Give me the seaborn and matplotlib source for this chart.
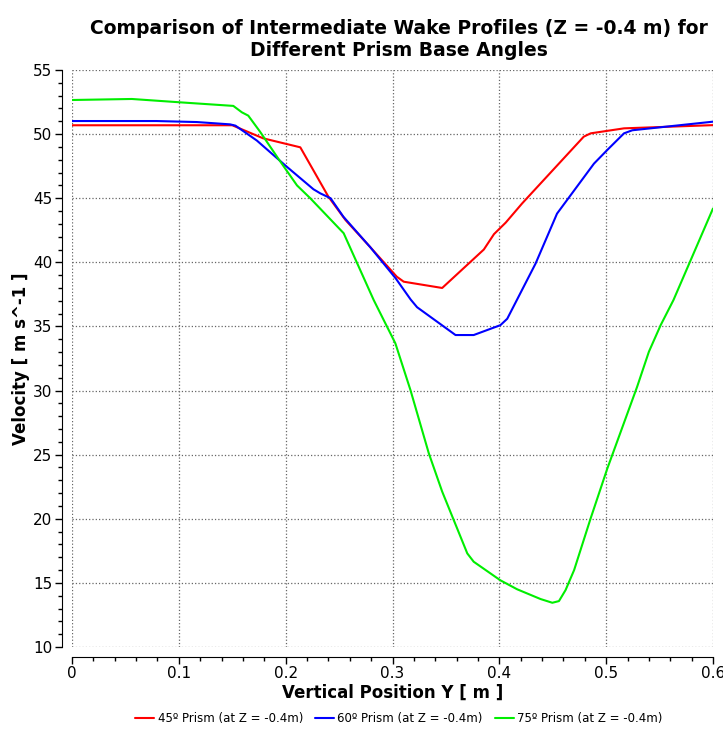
import numpy as np
import pandas as pd
import matplotlib
matplotlib.use("Agg")
import matplotlib.pyplot as plt
from matplotlib.ticker import MultipleLocator
import seaborn as sns

# Wake profile readings (Y position in m, velocity in m/s)
y_45 = [0, 0.05, 0.10, 0.15, 0.179, 0.2137, 0.24, 0.256, 0.279, 0.304, 0.3105,
        0.3465, 0.3855, 0.395, 0.406, 0.4214, 0.479, 0.4855, 0.5167, 0.55, 0.6]
v_45 = [50.69, 50.69, 50.69, 50.69, 49.67, 48.97, 45.12, 43.3, 41.2, 38.88, 38.49,
        38.0, 41.0, 42.2, 43.1, 44.6, 49.8, 50.06, 50.45, 50.55, 50.7]

y_60 = [0, 0.079, 0.117, 0.148, 0.153, 0.173, 0.201, 0.226, 0.2324, 0.242, 0.254,
        0.279, 0.303, 0.317, 0.323, 0.359, 0.376, 0.401, 0.4074, 0.4339, 0.454,
        0.4886, 0.501, 0.5167, 0.5245, 0.6]
v_60 = [51.02, 51.02, 50.94, 50.76, 50.66, 49.5, 47.46, 45.7, 45.38, 45.0, 43.56,
        41.2, 38.75, 37.1, 36.5, 34.33, 34.33, 35.1, 35.6, 39.9, 43.8,
        47.7, 48.76, 50.06, 50.3, 50.97]

y_75 = [0, 0.056, 0.101, 0.151, 0.159, 0.165, 0.176, 0.193, 0.2106, 0.223, 0.2543,
        0.2824, 0.3027, 0.3168, 0.334, 0.3465, 0.370, 0.376, 0.401, 0.4167, 0.4386,
        0.4496, 0.4558, 0.462, 0.47, 0.4855, 0.501, 0.529, 0.540, 0.551, 0.563, 0.6]
v_75 = [52.66, 52.74, 52.48, 52.2, 51.7, 51.44, 50.19, 48.1, 46.0, 45.0, 42.27,
        37.06, 33.68, 30.04, 25.1, 22.12, 17.3, 16.65, 15.2, 14.5, 13.74,
        13.45, 13.58, 14.44, 16.0, 20.04, 23.9, 30.3, 33.03, 35.1, 37.06, 44.2]

labels = ["45º Prism (at Z = -0.4m)", "60º Prism (at Z = -0.4m)", "75º Prism (at Z = -0.4m)"]
colors = ["#ff0000", "#0000ff", "#00ee00"]

df = pd.concat([
    pd.DataFrame({"y": y_45, "v": v_45, "series": labels[0]}),
    pd.DataFrame({"y": y_60, "v": v_60, "series": labels[1]}),
    pd.DataFrame({"y": y_75, "v": v_75, "series": labels[2]}),
], ignore_index=True)

sns.set_style("white")
plt.rcParams["font.family"] = ["DejaVu Sans"]
plt.rcParams["text.color"] = "black"
plt.rcParams["axes.labelcolor"] = "black"

fig = plt.figure(figsize=(7.23, 7.31), dpi=100)
ax = fig.add_axes([72 / 723, 1 - 647 / 731, (713 - 72) / 723, (647 - 70) / 731])

sns.lineplot(data=df, x="y", y="v", hue="series", palette=colors, sort=False,
             linewidth=1.5, estimator=None, ax=ax)

ax.set_xlim(0, 0.6)
ax.set_ylim(10, 55)
ax.xaxis.set_major_locator(MultipleLocator(0.1))
ax.xaxis.set_minor_locator(MultipleLocator(0.02))
ax.yaxis.set_major_locator(MultipleLocator(5))
ax.yaxis.set_minor_locator(MultipleLocator(1))
ax.set_xticks(np.arange(0, 0.61, 0.1))
ax.set_xticklabels(["0", "0.1", "0.2", "0.3", "0.4", "0.5", "0.6"])

ax.grid(True, which="major", linestyle=":", color="#666666", linewidth=0.9)
for s in ["top", "right"]:
    ax.spines[s].set_visible(False)
ax.spines["left"].set_position(("outward", 7))
ax.spines["bottom"].set_position(("outward", 7))
ax.spines["left"].set_color("black")
ax.spines["bottom"].set_color("black")
ax.tick_params(which="major", direction="out", length=5, width=1, labelsize=11,
               colors="black", pad=2)
ax.tick_params(which="minor", direction="out", length=3, width=1, colors="black")
ax.tick_params(axis="both", which="both", left=True, bottom=True)

ax.set_xlabel("Vertical Position Y [ m ]", fontsize=12, fontweight="bold", labelpad=2)
ax.set_ylabel("Velocity [ m s^-1 ]", fontsize=12, fontweight="bold", labelpad=2)
ax.set_title("Comparison of Intermediate Wake Profiles (Z = -0.4 m) for\nDifferent Prism Base Angles",
             fontsize=13.5, fontweight="bold", pad=10, x=0.51)

ax.legend(loc="upper center", bbox_to_anchor=(0.51, -0.095), ncol=3, frameon=False,
          fontsize=8.5, handlelength=1.6, columnspacing=1.0, handletextpad=0.3)

fig.savefig("out.png", dpi=100)
